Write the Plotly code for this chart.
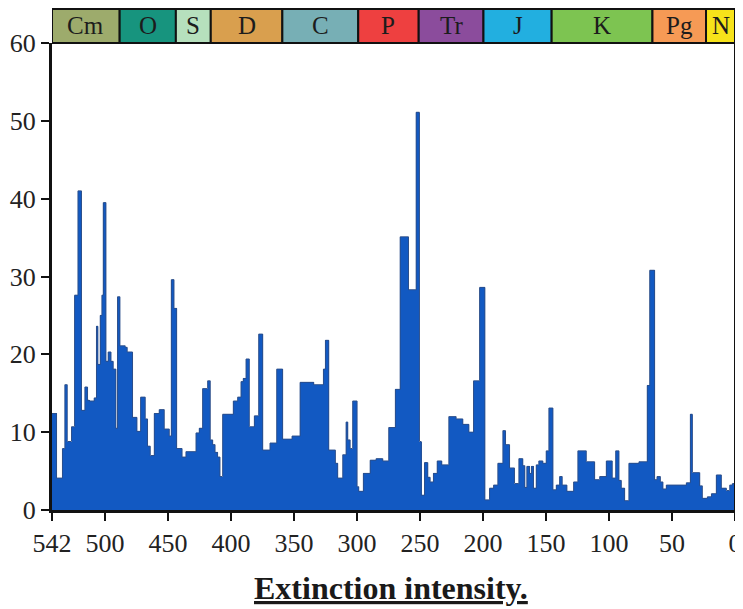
import plotly.graph_objects as go

# ---- data (ages in Ma, extinction intensity in %) ----
bin_edges_ma = [542, 538.4, 533.7, 531.8, 529.9, 526.5, 524.1, 521.4, 518.6, 515.9, 513.8, 512.5,
                508.5, 506.7, 505.6, 503.7, 502.4, 501.3, 499.2, 497.4, 495.2, 493.4, 491.3, 490.0,
                488.1, 483.9, 482.3, 478.1, 474.6, 471.7, 468.0, 466.2, 464.0, 460.8, 456.9, 452.9,
                448.9, 447.3, 445.2, 443.1, 438.8, 435.7, 427.7, 425.1, 422.5, 418.5, 416.4, 414.5,
                412.6, 410.6, 408.7, 406.6, 398.1, 394.7, 392.0, 390.2, 388.0, 385.4, 381.4, 378.0,
                374.8, 369.0, 363.7, 359.0, 351.5, 345.1, 334.3, 326.6, 325.0, 322.4, 317.1, 315.3,
                311.3, 308.6, 307.3, 305.4, 303.4, 299.9, 298.6, 294.9, 289.5, 284.8, 279.5, 274.8,
                269.5, 265.7, 259.1, 253.0, 250.4, 249.0, 246.4, 243.8, 241.9, 239.3, 236.3, 232.7,
                227.1, 221.3, 216.0, 211.2, 207.5, 202.7, 198.5, 194.8, 191.6, 188.2, 184.2, 182.1,
                178.9, 175.0, 171.5, 168.4, 166.8, 165.2, 163.0, 161.5, 159.9, 157.7, 155.7, 152.5,
                149.8, 147.7, 144.5, 141.8, 139.2, 137.1, 133.4, 128.1, 124.7, 118.0, 111.4, 107.4,
                102.1, 97.4, 94.7, 92.1, 90.2, 87.6, 84.2, 76.2, 69.6, 67.7, 63.8, 61.9,
                59.2, 57.2, 54.5, 38.6, 35.4, 33.8, 28.0, 25.9, 21.9, 18.7, 14.8, 10.8,
                6.8, 4.2, 2.1, 0]

extinction_pct = [12.4, 4.1, 7.9, 16.1, 8.8, 10.7, 27.6, 41.0, 12.8, 15.8, 14.1, 14.0,
                  14.4, 23.6, 18.7, 25.0, 27.6, 39.5, 19.1, 20.3, 19.1, 18.1, 10.5, 27.4,
                  21.1, 20.9, 20.3, 11.9, 10.1, 14.5, 11.7, 8.2, 7.0, 12.4, 12.9, 10.4,
                  9.5, 29.6, 25.9, 7.9, 6.8, 7.5, 9.9, 10.5, 15.6, 16.6, 9.0, 8.4,
                  7.4, 6.8, 4.3, 12.3, 14.0, 14.5, 16.5, 16.9, 19.4, 10.7, 12.1, 22.6,
                  7.7, 8.6, 18.1, 9.1, 9.5, 16.4, 16.1, 18.1, 21.8, 7.7, 6.0, 4.1,
                  7.1, 11.3, 9.0, 7.9, 14.0, 3.0, 2.4, 4.7, 6.4, 6.6, 6.3, 10.6,
                  15.5, 35.1, 28.3, 51.1, 8.8, 1.9, 6.1, 4.2, 3.6, 4.7, 6.3, 5.8,
                  12.0, 11.7, 11.0, 10.0, 16.6, 28.6, 1.3, 2.8, 3.2, 6.0, 10.2, 8.4,
                  5.4, 3.4, 6.6, 5.7, 2.9, 5.6, 4.7, 5.6, 2.8, 5.8, 6.3, 6.0,
                  7.6, 13.1, 2.6, 3.2, 4.3, 3.2, 2.4, 3.6, 7.6, 6.2, 3.9, 4.3,
                  6.3, 4.1, 7.6, 3.8, 2.8, 1.2, 6.0, 6.2, 16.0, 30.8, 3.9, 4.3,
                  3.6, 2.7, 3.2, 3.5, 12.3, 4.8, 3.1, 1.5, 1.7, 2.1, 4.5, 2.8,
                  2.5, 3.2, 3.4]

period_names = ["Cm", "O", "S", "D", "C", "P", "Tr", "J", "K", "Pg", "N"]
period_bounds_ma = [542, 488.3, 443.7, 416.0, 359.2, 299.0, 251.0, 199.6, 145.5, 65.5, 23.0, 0]
period_colors = ["#9dab6c", "#17947e", "#b6e0bd", "#d99f4e", "#77afb5", "#ee4040",
                 "#8b4c9c", "#22afe0", "#7dc451", "#f69a55", "#f7e31a"]

x_tick_vals = [542, 500, 450, 400, 350, 300, 250, 200, 150, 100, 50, 0]
y_tick_vals = [0, 10, 20, 30, 40, 50, 60]
title_text = "Extinction intensity."

assert len(extinction_pct) == len(bin_edges_ma) - 1, (len(extinction_pct), len(bin_edges_ma))

centers = [(a + b) / 2 for a, b in zip(bin_edges_ma[:-1], bin_edges_ma[1:])]
widths = [a - b for a, b in zip(bin_edges_ma[:-1], bin_edges_ma[1:])]

SERIF = "Liberation Serif, Times New Roman, serif"
PLOT_H = 467.0
BAR_H = 34 / PLOT_H

fig = go.Figure()
fig.add_trace(go.Bar(
    x=centers, y=extinction_pct, width=widths,
    marker=dict(color="#1259c2", line=dict(width=0)),
    showlegend=False, hoverinfo="x+y",
))
# outline of the histogram top (step line)
fig.add_trace(go.Scatter(
    x=bin_edges_ma[:-1] + [bin_edges_ma[-1]],
    y=extinction_pct + [extinction_pct[-1]],
    mode="lines", line=dict(shape="hv", color="#2b4f8c", width=1),
    showlegend=False, hoverinfo="skip",
))

shapes = []
annotations = []
for name, a, b, col in zip(period_names, period_bounds_ma[:-1], period_bounds_ma[1:], period_colors):
    shapes.append(dict(type="rect", xref="x", yref="paper", x0=a, x1=b, y0=1, y1=1 + BAR_H,
                       fillcolor=col, line=dict(color="#111111", width=2), layer="above"))
    annotations.append(dict(x=(a + b) / 2, y=1 + BAR_H / 2, xref="x", yref="paper",
                            text=name, showarrow=False,
                            font=dict(family=SERIF, size=25, color="#1c1c1c"),
                            xanchor="center", yanchor="middle"))
# right border
shapes.append(dict(type="line", xref="x", yref="paper", x0=0, x1=0, y0=0, y1=1,
                   line=dict(color="#111111", width=2)))

annotations.append(dict(x=0.497, y=-78 / PLOT_H, xref="paper", yref="paper",
                        text="<b><u>" + title_text + "</u></b>", showarrow=False,
                        font=dict(family=SERIF, size=32, color="#1a1a1a"),
                        xanchor="center", yanchor="middle"))

# page body adds an 8px offset; figure sized to fill the rest of the window
fig.update_layout(
    width=735, height=601,
    margin=dict(l=44, r=8, t=35, b=99, autoexpand=False),
    paper_bgcolor="white", plot_bgcolor="white",
    bargap=0,
    shapes=shapes, annotations=annotations,
    xaxis=dict(range=[542, 0], tickvals=x_tick_vals, ticktext=[str(v) for v in x_tick_vals],
               showgrid=False, zeroline=False, showline=True, linecolor="#111111", linewidth=3,
               ticks="outside", ticklen=8, tickwidth=2, tickcolor="#111111",
               tickfont=dict(family=SERIF, size=26, color="#222222")),
    yaxis=dict(range=[0, 60], tickvals=y_tick_vals,
               showgrid=False, zeroline=False, showline=True, linecolor="#111111", linewidth=3,
               ticks="outside", ticklen=8, tickwidth=2, tickcolor="#111111",
               tickfont=dict(family=SERIF, size=26, color="#222222")),
)

fig.write_html("out.html")
